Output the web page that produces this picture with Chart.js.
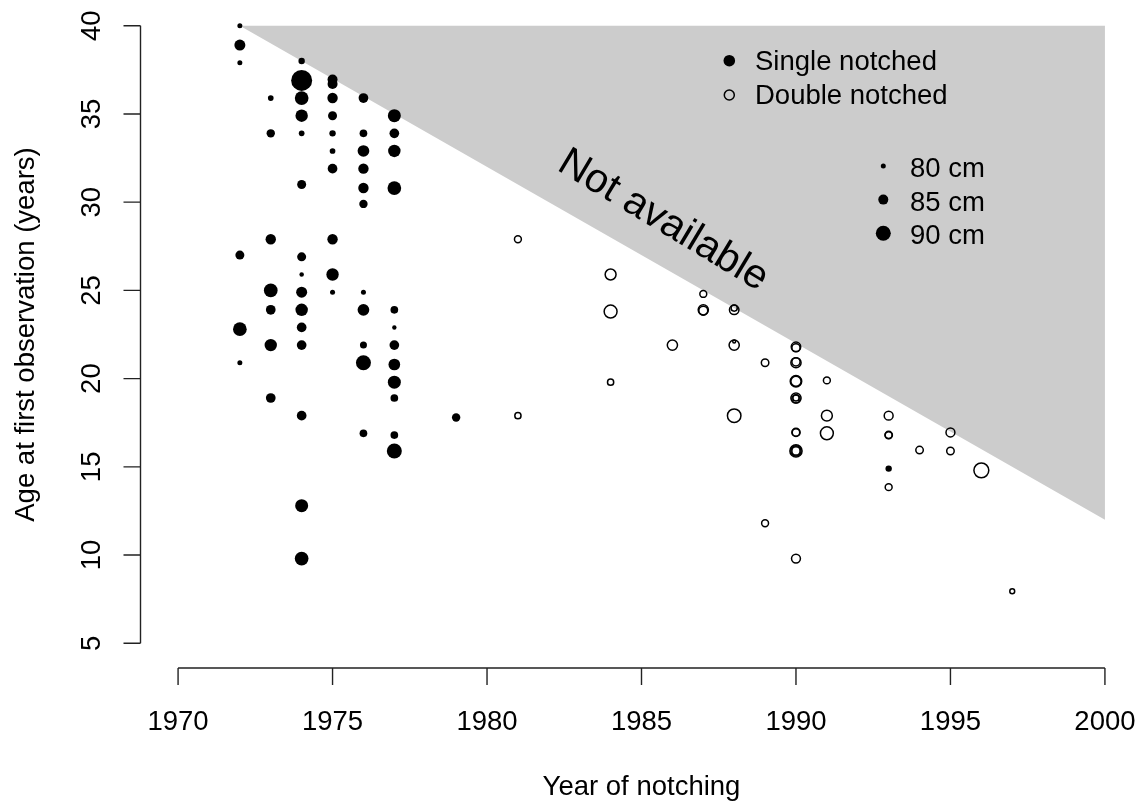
<!DOCTYPE html>
<html>
<head>
<meta charset="utf-8">
<script src="https://cdn.jsdelivr.net/npm/chart.js@4.4.1/dist/chart.umd.min.js"></script>
<style>
html,body{margin:0;padding:0;background:#fff;}
canvas{display:block;}
</style>
</head>
<body>
<canvas id="c" width="1142" height="801"></canvas>
<script>
// ---- data ----
const singleYears   = [1972,1972,1972,1972,1972,1972,
  1973,1973,1973,1973,1973,1973,1973,
  1974,1974,1974,1974,1974,1974,1974,1974,1974,1974,1974,1974,1974,1974,1974,
  1975,1975,1975,1975,1975,1975,1975,1975,1975,1975,
  1976,1976,1976,1976,1976,1976,1976,1976,1976,1976,1976,
  1977,1977,1977,1977,1977,1977,1977,1977,1977,1977,1977,1977,
  1979,1993];
const singleAges    = [40,38.9,37.9,27,22.8,20.9,
  35.9,33.9,27.9,25,23.9,21.9,18.9,
  38,36.9,35.9,34.9,33.9,31,26.9,25.9,24.9,23.9,22.9,21.9,17.9,12.8,9.8,
  36.95,36.7,35.9,34.9,33.9,32.9,31.9,27.9,25.9,24.9,
  35.9,33.9,32.9,31.9,30.8,29.9,24.9,23.9,21.9,20.9,16.9,
  34.9,33.9,32.9,30.8,23.9,22.9,21.9,20.8,19.8,18.9,16.8,15.9,
  17.8,14.9];
const singleLengths = [80,86,80,84,88.7,80,
  80.7,83.4,85.4,88.7,84.7,87.4,84.7,
  81.4,96,88.7,87.4,80.7,84,84,79.5,86,87.4,84.7,84.7,84.7,88,88.7,
  85,85,85.4,84,81.4,80.7,84.7,85.4,87.4,80,
  84.7,82.7,86.7,85.4,85.4,83.4,80,86.7,82,90,82.7,
  88,84.7,87.4,88.7,82.7,79.4,84.7,86.7,88,82.7,82.7,90,
  83.4,81.4];

const doubleYears   = [1981,1981,1984,1984,1984,1986,1987,1987,1987,
  1988,1988,1988,1988,1988,1989,1989,
  1990,1990,1990,1990,1990,1990,1990,1990,1990,1990,1990,1990,1990,1990,1990,
  1991,1991,1991,1993,1993,1993,1993,1994,1995,1995,1996,1997];
const doubleAges    = [27.9,17.9,25.9,23.8,19.8,21.9,24.8,23.9,23.85,
  23.9,24.0,21.9,22.1,17.9,20.9,11.8,
  21.8,21.75,20.9,20.95,19.85,19.85,18.9,18.85,18.9,16.95,16.95,15.9,15.9,15.9,9.8,
  19.9,17.9,16.9,17.9,16.8,16.8,13.85,15.95,16.95,15.9,14.8,7.95];
const doubleLengths = [83.4,82.7,87.4,89.4,82.7,86.7,83.4,86.7,85.4,
  86,82.7,86.7,79.4,90,84,83.4,
  86,84.7,86.7,84.7,88,86.7,86.7,84.7,82.7,84.7,84,88.7,84.7,86.7,85.4,
  83.4,87.4,89.4,85.4,84,83.4,83.4,84,85.4,84,91.4,81.4];

const shadeX = [1972, 2000, 2000];
const shadeY = [40, 40, 12];

const xTicks = [1970,1975,1980,1985,1990,1995,2000];
const yTicks = [5,10,15,20,25,30,35,40];
const sizeLegend = [80,85,90];

const xTitle = 'Year of notching';
const yTitle = 'Age at first observation (years)';
const shadeLabel = 'Not available';
const seriesNames = ['Single notched','Double notched'];

// ---- helpers ----
const rad = L => Math.max(1.6, 2.5 + (L - 80) * 0.5);
const toPts = (xs, ys) => xs.map((x, i) => ({x: x, y: ys[i]}));
const FONT = '"Liberation Sans", Arial, Helvetica, sans-serif';
const FS = 27.5;

const rPlugin = {
  id: 'rstyle',
  afterDatasetsDraw(chart) {
    const ctx = chart.ctx;
    const xs = chart.scales.x, ys = chart.scales.y;
    const ca = chart.chartArea;
    ctx.save();
    ctx.strokeStyle = '#222';
    ctx.fillStyle = '#000';
    ctx.lineWidth = 1.4;

    // "Not available"
    ctx.save();
    ctx.font = '41px ' + FONT;
    ctx.translate(xs.getPixelForValue(1985.7), ys.getPixelForValue(28.95));
    ctx.rotate(31 * Math.PI / 180);
    ctx.textAlign = 'center';
    ctx.textBaseline = 'middle';
    ctx.fillText(shadeLabel, 0, 0);
    ctx.restore();

    // y axis
    const yax = ca.left - 0.5;
    ctx.beginPath();
    ctx.moveTo(yax, ys.getPixelForValue(yTicks[yTicks.length-1]));
    ctx.lineTo(yax, ys.getPixelForValue(yTicks[0]));
    yTicks.forEach(v => {
      const p = ys.getPixelForValue(v);
      ctx.moveTo(yax, p); ctx.lineTo(yax - 17, p);
    });
    ctx.stroke();
    ctx.font = FS + 'px ' + FONT;
    yTicks.forEach(v => {
      const p = ys.getPixelForValue(v);
      ctx.save();
      ctx.translate(100, p);
      ctx.rotate(-Math.PI / 2);
      ctx.textAlign = 'center';
      ctx.textBaseline = 'alphabetic';
      ctx.fillText(String(v), 0, 0);
      ctx.restore();
    });
    // y title
    ctx.save();
    ctx.translate(34, (ca.top + ca.bottom) / 2);
    ctx.rotate(-Math.PI / 2);
    ctx.textAlign = 'center';
    ctx.textBaseline = 'alphabetic';
    ctx.fillText(yTitle, 0, 0);
    ctx.restore();

    // x axis
    const xay = ca.bottom;
    ctx.beginPath();
    ctx.moveTo(xs.getPixelForValue(xTicks[0]), xay);
    ctx.lineTo(xs.getPixelForValue(xTicks[xTicks.length-1]), xay);
    xTicks.forEach(v => {
      const p = xs.getPixelForValue(v);
      ctx.moveTo(p, xay); ctx.lineTo(p, xay + 17);
    });
    ctx.stroke();
    ctx.textAlign = 'center';
    ctx.textBaseline = 'alphabetic';
    xTicks.forEach(v => {
      ctx.fillText(String(v), xs.getPixelForValue(v), 730);
    });
    ctx.fillText(xTitle, (ca.left + ca.right) / 2, 795);

    // legend: series
    ctx.textAlign = 'left';
    ctx.beginPath();
    ctx.arc(729.3, 60.7, 5.8, 0, Math.PI * 2);
    ctx.fill();
    ctx.fillText(seriesNames[0], 755, 70);
    ctx.beginPath();
    ctx.lineWidth = 1.5;
    ctx.strokeStyle = '#000';
    ctx.arc(729.3, 95, 5.0, 0, Math.PI * 2);
    ctx.stroke();
    ctx.fillText(seriesNames[1], 755, 103.5);
    // legend: sizes
    sizeLegend.forEach((L, i) => {
      const cy = 166 + i * 33.6;
      ctx.beginPath();
      ctx.arc(883.3, cy, rad(L), 0, Math.PI * 2);
      ctx.fill();
      ctx.fillText(L + ' cm', 910, 177 + i * 33.6);
    });
    ctx.restore();
  }
};

new Chart(document.getElementById('c'), {
  type: 'scatter',
  data: {
    datasets: [
      {
        label: seriesNames[0],
        data: toPts(singleYears, singleAges),
        pointRadius: c => rad(singleLengths[c.dataIndex]),
        pointBackgroundColor: '#000',
        pointBorderWidth: 0,
        pointBorderColor: '#000',
        order: 1
      },
      {
        label: seriesNames[1],
        data: toPts(doubleYears, doubleAges),
        pointRadius: c => rad(doubleLengths[c.dataIndex]) - 0.75,
        pointBackgroundColor: 'rgba(0,0,0,0)',
        pointBorderColor: '#000',
        pointBorderWidth: 1.5,
        order: 1
      },
      {
        label: 'shade',
        data: toPts(shadeX, shadeY),
        showLine: true,
        fill: 'shape',
        backgroundColor: '#cccccc',
        borderWidth: 0,
        borderColor: 'rgba(0,0,0,0)',
        pointRadius: 0,
        tension: 0,
        order: 5
      }
    ]
  },
  options: {
    responsive: false,
    animation: false,
    devicePixelRatio: 1,
    layout: { autoPadding: false, padding: { left: 141, right: 0, top: 1, bottom: 133 } },
    scales: {
      x: { type: 'linear', min: 1968.8, max: 2001.2, display: false },
      y: { type: 'linear', min: 3.6, max: 41.4, display: false }
    },
    plugins: {
      legend: { display: false },
      tooltip: { enabled: false }
    }
  },
  plugins: [rPlugin]
});
</script>
</body>
</html>
